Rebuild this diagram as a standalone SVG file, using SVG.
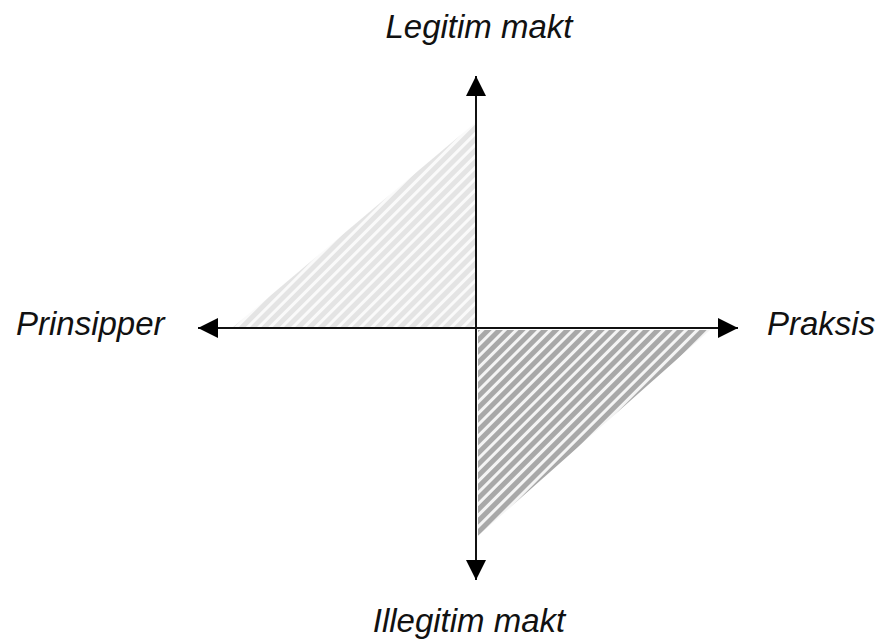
<svg xmlns="http://www.w3.org/2000/svg" width="882" height="639" viewBox="0 0 882 639">
<style>
.lbl{font-family:"Liberation Sans",Arial,sans-serif;font-style:italic;font-size:33px;fill:#111}
.axis{stroke:#111;stroke-width:2;fill:none}
</style>
<defs>
<pattern id="hatchLight" width="8" height="8" patternUnits="userSpaceOnUse" patternTransform="rotate(45)">
<rect width="8" height="8" fill="#fafafa"/>
<rect width="5" height="8" fill="#e4e4e4"/>
</pattern>
<pattern id="hatchDark" width="8" height="8" patternUnits="userSpaceOnUse" patternTransform="rotate(45)">
<rect width="8" height="8" fill="#f4f4f4"/>
<rect width="5" height="8" fill="#a8a8a8"/>
</pattern>
<marker id="arr" viewBox="0 0 20 20" refX="20" refY="10" markerWidth="20" markerHeight="20" markerUnits="userSpaceOnUse" orient="auto">
<path d="M0,0 L20,10 L0,20 Z" fill="#000"/>
</marker>
</defs>
<g id="upper-area">
<polygon points="476,122 476,328 232,328" fill="url(#hatchLight)"/>
</g>
<g id="lower-area">
<polygon points="478,330 710,330 478,536" fill="url(#hatchDark)"/>
</g>
<g id="connectors">
<line class="axis" x1="476" y1="560" x2="476" y2="76" marker-end="url(#arr)"/>
<line class="axis" x1="476" y1="96" x2="476" y2="580" marker-end="url(#arr)"/>
<line class="axis" x1="476" y1="328" x2="198" y2="328" marker-end="url(#arr)"/>
<line class="axis" x1="476" y1="328" x2="738" y2="328" marker-end="url(#arr)"/>
</g>
<g id="label-top"><text class="lbl" x="479" y="38" text-anchor="middle">Legitim makt</text></g>
<g id="label-left"><text class="lbl" x="16" y="335">Prinsipper</text></g>
<g id="label-right"><text class="lbl" x="767" y="335">Praksis</text></g>
<g id="label-bottom"><text class="lbl" x="469" y="632" text-anchor="middle">Illegitim makt</text></g>
</svg>
